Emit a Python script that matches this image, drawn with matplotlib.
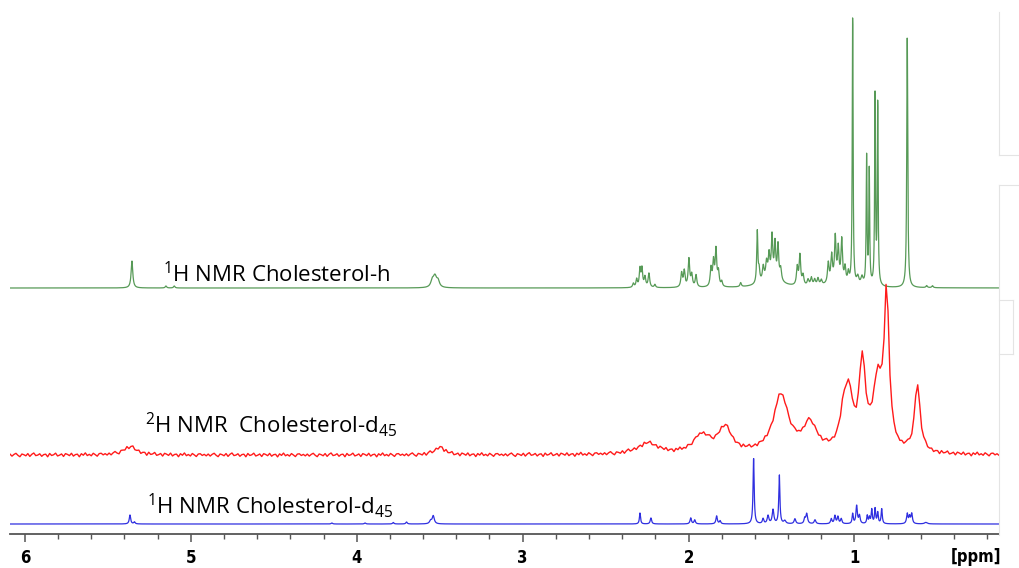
import numpy as np
import matplotlib
matplotlib.use("Agg")
import matplotlib.pyplot as plt
from matplotlib.lines import Line2D
from matplotlib.ticker import MultipleLocator

plt.rcParams['mathtext.fontset'] = 'custom'
plt.rcParams['mathtext.rm'] = 'Open Sans'
plt.rcParams['mathtext.default'] = 'regular'

# peak lists: (shift in ppm, height, line width in ppm)
h_chol_peaks = [
    (5.355, 27, 0.012), (5.15, 2, 0.01), (5.10, 2, 0.01),
    (3.545, 6, 0.02), (3.529, 11, 0.025), (3.51, 6, 0.02),
    (2.333, 4, 0.01), (2.313, 8, 0.01), (2.293, 18, 0.01), (2.281, 18, 0.01),
    (2.263, 10, 0.011), (2.239, 14, 0.011), (2.203, 3, 0.01),
    (2.042, 14, 0.011), (2.026, 16, 0.011), (1.998, 28, 0.011), (1.981, 12, 0.011),
    (1.955, 12, 0.011),
    (1.865, 18, 0.011), (1.850, 24, 0.011), (1.835, 36, 0.011), (1.82, 14, 0.011),
    (1.80, 5, 0.01), (1.686, 4, 0.01),
    (1.586, 52, 0.008), (1.575, 12, 0.01), (1.55, 14, 0.012), (1.53, 16, 0.012),
    (1.515, 22, 0.011), (1.497, 40, 0.01), (1.479, 34, 0.01), (1.461, 34, 0.01),
    (1.445, 12, 0.012), (1.50, 10, 0.12),
    (1.345, 18, 0.011), (1.329, 30, 0.011), (1.31, 10, 0.012),
    (1.28, 6, 0.012), (1.26, 8, 0.012), (1.24, 6, 0.012), (1.22, 7, 0.012), (1.20, 5, 0.012),
    (1.158, 20, 0.011), (1.138, 26, 0.011), (1.116, 42, 0.01), (1.098, 30, 0.01),
    (1.077, 40, 0.01), (1.057, 14, 0.01), (1.037, 10, 0.01), (1.10, 8, 0.10),
    (1.011, 270, 0.006), (0.98, 8, 0.015), (0.955, 8, 0.015),
    (0.927, 128, 0.006), (0.911, 114, 0.006),
    (0.876, 190, 0.006), (0.860, 182, 0.006),
    (0.682, 254, 0.007), (0.565, 2, 0.01), (0.53, 2, 0.01),
]

d45_2h_peaks = [
    (5.367, 8, 0.10), (3.498, 8, 0.07), (2.245, 11, 0.15),
    (1.921, 18, 0.12), (1.781, 25, 0.10), (1.443, 58, 0.11),
    (1.268, 28, 0.10), (1.062, 40, 0.06), (1.030, 42, 0.05),
    (0.953, 86, 0.045), (0.860, 66, 0.07), (0.806, 150, 0.035),
    (0.621, 68, 0.04),
]

# baseline ripple of the 2H acquisition
d45_2h_noise = [0.8, -1.2, 0.5, 1.6, -0.4, -1.8, 0.9, 0.2, -0.9, 1.3,
                -1.5, 0.6, 1.9, -0.7, -0.2, 1.1, -1.4, 0.3, 0.7, -1.9,
                1.4, -0.6, 0.1, 1.7, -1.1, -0.3, 0.9, -1.6, 1.2, 0.4,
                -0.8, 1.5, -1.3, 0.2, 0.6, -2.0, 1.0, -0.5, 1.8, -0.9,
                0.3, -1.2, 1.3, -0.1, -1.7, 0.8, 1.1, -0.6, 0.5, -1.0]

d45_1h_peaks = [
    (5.367, 9, 0.01), (5.34, 2, 0.01), (4.15, 1, 0.01), (3.95, 1, 0.01),
    (3.78, 1.5, 0.01), (3.70, 2, 0.01),
    (3.539, 8, 0.015), (3.555, 3, 0.015),
    (2.293, 11, 0.008), (2.227, 6, 0.01), (1.987, 6, 0.01), (1.963, 4, 0.01),
    (1.831, 8, 0.01), (1.81, 3, 0.01),
    (1.608, 66, 0.008), (1.551, 5, 0.01), (1.521, 8, 0.012), (1.491, 14, 0.012),
    (1.453, 49, 0.008), (1.42, 3, 0.015),
    (1.359, 5, 0.012), (1.30, 5, 0.01), (1.288, 10, 0.012), (1.238, 4, 0.012),
    (1.14, 5, 0.01), (1.118, 8, 0.01), (1.10, 7, 0.01), (1.08, 5, 0.01),
    (1.011, 10, 0.008), (0.987, 18, 0.01), (0.97, 8, 0.01),
    (0.923, 8, 0.008), (0.91, 6, 0.008), (0.896, 14, 0.008), (0.876, 15, 0.008),
    (0.86, 11, 0.008), (0.836, 15, 0.008),
    (0.682, 10, 0.01), (0.668, 7, 0.01), (0.655, 10, 0.01), (0.57, 1.5, 0.02),
]

offsets = {'h': 246, 'd45_2h': 79, 'd45_1h': 10}
tick_ppm = [6, 5, 4, 3, 2, 1]


def spectrum(x, peaks):
    y = np.zeros_like(x)
    for pos, h, w in peaks:
        g = (w / 2) ** 2
        y += h * g / ((x - pos) ** 2 + g)
    return y


x_fine = np.linspace(6.09, 0.129, 6000)
x_coarse = np.linspace(6.09, 0.129, 500)

y_h = spectrum(x_fine, h_chol_peaks) + offsets['h']
y_2h = (spectrum(x_coarse, d45_2h_peaks) + np.resize(d45_2h_noise, x_coarse.size)
        + offsets['d45_2h'])
y_1h = spectrum(x_fine, d45_1h_peaks) + offsets['d45_1h']

fig = plt.figure(figsize=(10.2, 5.68), dpi=100)
ax = fig.add_axes([10 / 1020, 34 / 568, 989 / 1020, 534 / 568])

ax.plot(x_fine, y_h, color='#579a57', lw=0.9)
ax.plot(x_coarse, y_2h, color='#ff1a1a', lw=1.0)
ax.plot(x_fine, y_1h, color='#2f2fe0', lw=0.9)

ax.set_xlim(6.09, 0.129)
ax.set_ylim(0, 534)

for s in ['left', 'right', 'top']:
    ax.spines[s].set_visible(False)
ax.spines['bottom'].set_color('#555555')
ax.spines['bottom'].set_linewidth(1.3)
ax.set_yticks([])
ax.set_xticks(tick_ppm)
ax.xaxis.set_minor_locator(MultipleLocator(0.2))
ax.tick_params(axis='x', which='major', direction='out', length=6, width=1.1,
               color='#555555', pad=5)
ax.tick_params(axis='x', which='minor', direction='out', length=3.6, width=1.0,
               color='#555555')
tick_font = dict(family=['Liberation Sans Narrow', 'DejaVu Sans'],
                 stretch='condensed', weight='bold', size=12)
for lab in ax.get_xticklabels():
    lab.set_fontfamily(tick_font['family'])
    lab.set_fontstretch(tick_font['stretch'])
    lab.set_fontweight(tick_font['weight'])
    lab.set_fontsize(tick_font['size'])
fig.text(976 / 1020, 1 - 557 / 568, '[ppm]', ha='center', va='center',
         fontfamily=tick_font['family'], fontstretch='condensed',
         fontweight='bold', fontsize=12)

lab_kw = dict(fontfamily='Open Sans', fontsize=16, ha='left', va='baseline', color='black')
ax.text(5.168, 252, r'$^{1}$H NMR Cholesterol-h', **lab_kw)
ax.text(5.277, 101, r'$^{2}$H NMR  Cholesterol-d$_{45}$', **lab_kw)
ax.text(5.266, 20, r'$^{1}$H NMR Cholesterol-d$_{45}$', **lab_kw)

# faint frame edges on the right margin
edge = '#e4e4e4'
for xs, ys in [([999, 999], [12, 155]), ([999, 1020], [155, 155]),
               ([999, 1020], [185, 185]), ([999, 999], [185, 535]),
               ([999, 1013], [300, 300]), ([999, 1013], [354, 354]),
               ([1013, 1013], [300, 354])]:
    fig.add_artist(Line2D([x / 1020 for x in xs], [1 - y / 568 for y in ys],
                          color=edge, lw=0.8))

fig.savefig('out.png', dpi=100)
